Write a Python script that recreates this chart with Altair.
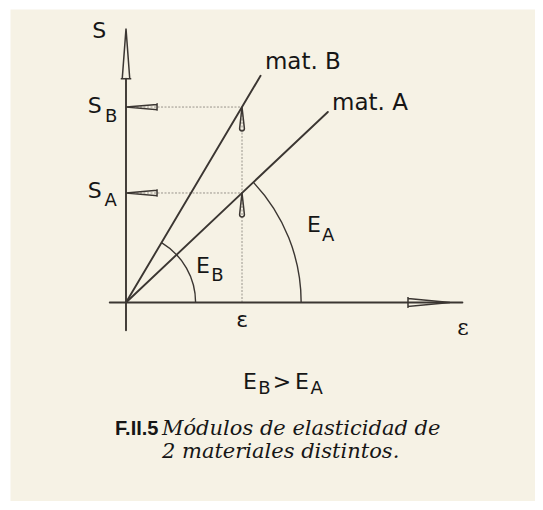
import altair as alt
import numpy as np
import pandas as pd

# ---------------- values (diagram units: epsilon mark = 1) ----------------
materials = ["A", "B"]
moduli = [0.944, 1.685]          # E_A, E_B  (slope S / epsilon)
line_end_strain = [1.74, 1.16]   # where each material line stops
arc_radius = [1.51, 0.60]        # radius of the angle arcs E_A, E_B
eps_mark = 1.0                   # the marked strain epsilon
stress_levels = [m * eps_mark for m in moduli]   # S_A, S_B

y_axis_range = [-0.24, 1.93]     # shaft of S axis (below the arrow head)
x_axis_range = [-0.14, 2.90]

INK = "#3b3632"
TXT = "#161616"
CREAM = "#f6f2e5"

# ---------------- layout ----------------
K = 116.0                     # px per unit
W, H = 525, 492
OX, OY = 116.0, 293.5
xs = alt.Scale(domain=[-OX / K, (W - OX) / K], nice=False, zero=False)
ys = alt.Scale(domain=[-(H - OY) / K, OY / K], nice=False, zero=False)
X = alt.X("u:Q", scale=xs, axis=None)
Y = alt.Y("v:Q", scale=ys, axis=None)

# main lines
rows = []
rows += [("yaxis", 0, 0.0, y_axis_range[0]), ("yaxis", 1, 0.0, y_axis_range[1])]
rows += [("xaxis", 0, x_axis_range[0], 0.0), ("xaxis", 1, x_axis_range[1], 0.0)]
for m, e, xe in zip(materials, moduli, line_end_strain):
    rows += [("mat" + m, 0, 0.0, 0.0), ("mat" + m, 1, xe, e * xe)]
main_df = pd.DataFrame(rows, columns=["seg", "order", "u", "v"])

grows = []
for m, s in zip(materials, stress_levels):
    grows += [("h" + m, 0, 0.0, s), ("h" + m, 1, eps_mark, s)]
grows += [("veps", 0, eps_mark, 0.0), ("veps", 1, eps_mark, max(stress_levels))]
guide_df = pd.DataFrame(grows, columns=["seg", "order", "u", "v"])

main_lines = alt.Chart(main_df).mark_line(color=INK, strokeWidth=1.9, strokeCap="round").encode(
    x=X, y=Y, detail="seg:N", order="order:Q")
guide_lines = alt.Chart(guide_df).mark_line(color="#8f8a82", strokeWidth=0.9, strokeDash=[2, 1.5]).encode(
    x=X, y=Y, detail="seg:N", order="order:Q")

arc_df = pd.DataFrame({
    "u": [0.0, 0.0], "v": [0.0, 0.0], "r": arc_radius,
    "t1": [np.pi / 2 - np.arctan(m) for m in moduli], "t2": [np.pi / 2] * 2,
})
arcs = alt.Chart(arc_df).mark_arc(fill="transparent", stroke=INK, strokeWidth=1.4).encode(
    x=X, y=Y,
    theta=alt.Theta("t1:Q", scale=None), theta2=alt.Theta2("t2:Q"),
    radius=alt.Radius("r:Q", scale=alt.Scale(type="linear", domain=[0, 1], range=[0, K])),
    radius2=alt.Radius2("r:Q"),
)

# arrow heads
UP_LONG = "M-0.15,1 L0,-1 L0.15,1 Z M-0.21,1 L0.21,1"
RIGHT_LONG = "M-1,-0.19 L1,0 L-1,0.19 Z M-1,-0.26 L-1,0.26"
LEFT_TICK = "M1,-0.17 L-1,0 L1,0.17 Z M1,-0.24 L1,0.24"
UP_SMALL = "M-0.2,0.8 L0,-1 L0.2,0.8 Q0.2,1 0,1 Q-0.2,1 -0.2,0.8 Z"

def arrow(df, shape, size):
    return alt.Chart(pd.DataFrame(df)).mark_point(
        shape=shape, size=size, filled=False, color=INK, strokeWidth=1.5, opacity=1
    ).encode(x=X, y=Y)

a_y = arrow({"u": [0.0], "v": [2.145]}, UP_LONG, 2500)
a_x = arrow({"u": [2.612], "v": [0.0]}, RIGHT_LONG, 1764)
a_s = arrow({"u": [0.134] * 2, "v": stress_levels}, LEFT_TICK, 961)
a_e = arrow({"u": [eps_mark] * 2, "v": [s - 0.103 for s in stress_levels]}, UP_SMALL, 576)

# labels (left aligned, alphabetic baseline)
labels = pd.DataFrame([
    ("S", -0.29, 2.28, 22),
    ("S", -0.33, 1.63, 22), ("B", -0.18, 1.555, 18),
    ("S", -0.33, 0.905, 22), ("A", -0.185, 0.83, 18),
    ("mat. B", 1.198, 2.013, 23),
    ("mat. A", 1.776, 1.659, 23),
    ("E", 0.603, 0.254, 22), ("B", 0.735, 0.185, 18),
    ("E", 1.560, 0.608, 22), ("A", 1.69, 0.530, 18),
    ("ε", 0.95, -0.211, 22),
    ("E", 1.009, -0.746, 22), ("B", 1.14, -0.789, 18),
    (">", 1.265, -0.746, 22),
    ("E", 1.457, -0.746, 22), ("A", 1.59, -0.789, 18),
], columns=["text", "u", "v", "fs"])

sans = alt.Chart(labels).mark_text(font="DejaVu Sans", align="left", baseline="alphabetic", color=TXT).encode(
    x=X, y=Y, text="text:N", size=alt.Size("fs:Q", scale=None))

eps2 = alt.Chart(pd.DataFrame({"text": ["ε"], "u": [2.855], "v": [-0.28]})).mark_text(
    font="DejaVu Serif", fontSize=22, align="left", baseline="alphabetic", color=TXT).encode(x=X, y=Y, text="text:N")

cap_bold = alt.Chart(pd.DataFrame({"text": ["F.II.5"], "u": [0.28], "v": [-1.142]})).mark_text(
    font="Liberation Sans Narrow, Liberation Sans", fontWeight="bold", fontSize=20, align="right",
    baseline="alphabetic", color=TXT
).encode(x=X, y=Y, text="text:N")

cap_it = alt.Chart(pd.DataFrame({
    "text": ["Módulos de elasticidad de", "2 materiales distintos."],
    "u": [0.31, 0.31], "v": [-1.142, -1.34]})).mark_text(
    font="DejaVu Serif", fontStyle="italic", fontSize=21, align="left", baseline="alphabetic", color=TXT
).encode(x=X, y=Y, text="text:N")

chart = alt.layer(
    guide_lines, arcs, main_lines, a_y, a_x, a_s, a_e, sans, eps2, cap_bold, cap_it
).properties(
    width=W, height=H, autosize="none",
    padding={"left": 2, "top": 1, "right": 0, "bottom": 0},
    background="white",
).configure_view(fill=CREAM, strokeOpacity=0)

chart.save("out.html", embed_options={"renderer": "svg", "actions": False})
